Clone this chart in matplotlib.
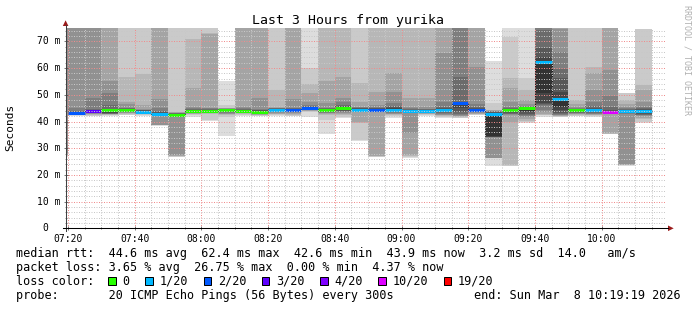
import numpy as np
import matplotlib
matplotlib.use("Agg")
import matplotlib.pyplot as plt
from matplotlib.patches import Polygon, Rectangle
from matplotlib.lines import Line2D
from matplotlib.ticker import MultipleLocator, FuncFormatter
from matplotlib import transforms

# ---------------- data ----------------
col_start = ["07:15", "07:20", "07:25", "07:30", "07:35", "07:40", "07:45", "07:50",
             "07:55", "08:00", "08:05", "08:10", "08:15", "08:20", "08:25", "08:30",
             "08:35", "08:40", "08:45", "08:50", "08:55", "09:00", "09:05", "09:10",
             "09:15", "09:20", "09:25", "09:30", "09:35", "09:40", "09:45", "09:50",
             "09:55", "10:00", "10:05", "10:10"]

# 20 sorted ping RTTs (ms) per 5-minute step; 80 = above the visible range
pings = [
    [26.8, 27.2, 27.6, 27.9, 28.2, 80, 80, 80, 80, 80, 80, 80, 80, 80, 80, 80, 80, 80, 80, 80],
    [42.2, 42.4, 42.5, 42.6, 42.7, 42.8, 42.9, 43.0, 43.05, 43.1, 43.2, 43.5, 43.7, 43.9, 45.2, 80, 80, 80, 80, 80],
    [42.2, 42.2, 42.5, 42.8, 43.0, 43.2, 43.4, 43.6, 43.8, 43.9, 44.0, 44.3, 44.5, 44.7, 48.9, 80, 80, 80, 80, 80],
    [42.0, 42.3, 42.5, 42.7, 42.8, 42.9, 43.0, 43.1, 43.2, 43.4, 44.4, 44.6, 44.8, 46.2, 50.6, 55.0, 80, 80, 80, 80],
    [42.3, 42.6, 42.9, 43.1, 43.3, 43.5, 43.7, 43.9, 44.0, 44.1, 44.3, 44.6, 44.8, 45.0, 45.2, 46.4, 47.4, 56.5, 80, 80],
    [42.2, 42.5, 42.7, 42.9, 43.0, 43.1, 43.2, 43.3, 43.4, 43.5, 43.6, 44.0, 44.2, 44.4, 44.5, 44.7, 46.2, 57.7, 80, 80],
    [38.5, 38.55, 38.6, 38.65, 38.7, 42.6, 42.7, 42.75, 42.8, 42.85, 42.9, 43.3, 43.6, 44.0, 44.9, 48.3, 80, 80, 80, 80],
    [26.6, 26.8, 27.0, 27.2, 27.4, 42.3, 42.35, 42.4, 42.45, 42.5, 42.6, 42.9, 43.0, 43.1, 43.2, 43.3, 43.4, 43.5, 80, 80],
    [41.8, 42.6, 42.8, 43.0, 43.1, 43.2, 43.3, 43.4, 43.5, 43.6, 43.9, 44.2, 44.4, 44.7, 45.0, 45.5, 52.4, 71.0, 80, 80],
    [40.3, 40.5, 43.0, 43.2, 43.4, 43.5, 43.6, 43.7, 43.8, 43.9, 44.1, 44.3, 44.5, 44.7, 44.9, 45.1, 72.9, 73.0, 80, 80],
    [34.7, 41.8, 42.5, 42.8, 43.0, 43.2, 43.4, 43.6, 43.8, 44.0, 44.3, 44.5, 44.6, 44.7, 44.8, 44.9, 45.0, 45.2, 46.2, 55.2],
    [42.2, 42.6, 42.9, 43.1, 43.3, 43.4, 43.5, 43.6, 43.7, 43.75, 43.8, 44.0, 44.3, 44.6, 45.0, 45.3, 80, 80, 80, 80],
    [42.0, 42.2, 42.4, 42.6, 42.7, 42.8, 42.9, 43.0, 43.2, 43.4, 43.7, 44.0, 44.2, 44.4, 44.7, 48.7, 80, 80, 80, 80],
    [42.2, 42.5, 42.8, 43.0, 43.3, 43.5, 43.7, 43.9, 44.0, 44.1, 44.2, 44.6, 44.8, 44.9, 45.0, 45.2, 45.5, 51.8, 80, 80],
    [42.2, 42.2, 42.6, 42.9, 43.2, 43.5, 43.7, 43.9, 44.0, 44.1, 44.4, 44.6, 44.8, 44.9, 45.1, 48.3, 80, 80, 80, 80],
    [41.8, 43.5, 43.8, 44.0, 44.2, 44.4, 44.6, 44.7, 44.8, 44.9, 45.1, 45.3, 45.5, 45.8, 46.2, 47.4, 50.6, 54.2, 60.0, 80],
    [35.5, 40.5, 42.6, 42.9, 43.1, 43.3, 43.5, 43.7, 43.9, 44.1, 44.3, 44.6, 44.8, 45.0, 45.2, 46.8, 55.0, 80, 80, 80],
    [41.2, 41.8, 42.5, 42.9, 43.2, 43.5, 43.8, 44.0, 44.4, 44.8, 45.2, 45.5, 45.8, 46.2, 47.4, 48.9, 56.5, 80, 80, 80],
    [32.8, 33.0, 39.6, 39.9, 43.6, 43.8, 43.9, 44.0, 44.1, 44.2, 44.3, 44.7, 44.9, 45.1, 45.3, 45.5, 47.4, 54.3, 80, 80],
    [26.8, 26.8, 27.0, 27.2, 43.8, 44.0, 44.1, 44.2, 44.3, 44.4, 44.5, 44.7, 44.9, 45.2, 45.5, 46.2, 51.2, 80, 80, 80],
    [41.5, 42.0, 42.5, 42.8, 43.0, 43.2, 43.4, 43.7, 44.0, 44.2, 44.5, 45.0, 45.3, 45.8, 46.8, 51.2, 58.1, 80, 80, 80],
    [26.3, 26.8, 27.2, 27.5, 35.6, 43.2, 43.4, 43.5, 43.6, 43.7, 43.8, 44.2, 44.5, 44.8, 45.0, 45.3, 48.7, 80, 80, 80],
    [42.0, 42.4, 42.8, 43.0, 43.2, 43.3, 43.4, 43.5, 43.6, 43.7, 43.9, 44.2, 44.4, 44.6, 44.8, 45.5, 48.9, 80, 80, 80],
    [41.5, 41.8, 42.1, 42.4, 42.6, 42.9, 43.2, 43.6, 44.0, 44.2, 44.4, 44.8, 45.0, 45.5, 47.4, 65.6, 80, 80, 80, 80],
    [41.2, 41.2, 41.6, 42.0, 42.2, 42.4, 42.8, 43.4, 45.2, 46.2, 46.8, 47.0, 47.4, 56.8, 80, 80, 80, 80, 80, 80],
    [42.4, 42.4, 42.7, 43.0, 43.3, 43.5, 43.7, 43.9, 44.0, 44.2, 44.4, 44.7, 45.0, 45.3, 46.4, 60.6, 80, 80, 80, 80],
    [23.3, 26.3, 26.3, 26.3, 26.3, 34.3, 34.3, 34.3, 34.3, 34.4, 42.9, 43.2, 43.4, 43.6, 43.8, 44.0, 44.2, 44.5, 47.0, 62.5],
    [23.3, 23.5, 23.7, 40.0, 42.5, 42.8, 43.0, 43.3, 43.6, 43.9, 44.2, 44.4, 44.7, 45.0, 45.5, 47.5, 52.7, 56.4, 71.5, 80],
    [39.5, 39.8, 40.2, 40.8, 41.6, 42.2, 42.6, 43.0, 43.4, 44.0, 45.1, 45.3, 45.4, 45.6, 45.9, 46.5, 48.2, 51.9, 56.3, 80],
    [41.8, 42.3, 42.6, 43.0, 43.5, 44.3, 46.3, 46.5, 46.8, 50.6, 62.4, 64.0, 67.5, 74.4, 80, 80, 80, 80, 80, 80],
    [41.6, 41.8, 42.0, 42.2, 42.4, 42.6, 42.8, 43.2, 44.3, 45.5, 48.3, 51.2, 56.4, 59.5, 65.9, 74.5, 80, 80, 80, 80],
    [41.9, 42.2, 42.5, 42.7, 42.9, 43.1, 43.3, 43.5, 43.8, 44.0, 44.3, 44.5, 44.6, 44.8, 45.0, 45.5, 46.5, 48.2, 80, 80],
    [41.8, 42.0, 42.3, 42.5, 42.7, 42.9, 43.1, 43.4, 43.7, 44.0, 44.3, 44.8, 45.2, 46.0, 47.5, 51.8, 58.3, 60.6, 80, 80],
    [35.2, 35.4, 35.5, 35.6, 43.0, 43.2, 43.3, 43.4, 43.5, 43.55, 43.6, 44.0, 44.5, 45.5, 49.6, 59.4, 80, 80, 80, 80],
    [23.5, 23.7, 23.8, 23.9, 24.0, 43.0, 43.2, 43.4, 43.6, 43.7, 43.8, 44.0, 44.3, 44.6, 45.0, 45.5, 46.5, 48.0, 50.5, 50.6],
    [39.6, 40.0, 40.8, 41.5, 42.0, 42.3, 42.6, 42.9, 43.2, 43.6, 43.9, 44.3, 44.6, 45.0, 45.6, 47.4, 51.8, 53.7, 74.6, 74.7],
]

median_ms = [np.nan, 43.2, 44.0, 44.4, 44.3, 43.6, 42.9, 42.6, 43.9, 44.1, 44.3, 43.8,
             43.7, 44.2, 44.4, 45.1, 44.3, 45.2, 44.3, 44.5, 44.5, 43.8, 43.9, 44.4,
             46.8, 44.4, 42.9, 44.2, 45.1, 62.4, 48.3, 44.3, 44.3, 43.6, 43.8, 43.9]

loss_pct = [0, 7.5, 12.5, 0, 0, 3.0, 2.5, 0, 0, 0, 0, 0,
            0, 3.5, 8.0, 6.5, 0, 0, 2.0, 7.0, 3.0, 4.0, 2.5, 3.0,
            6.0, 7.5, 3.5, 0, 0, 2.0, 3.0, 0, 2.5, 26.75, 3.5, 4.37]

pings_per_step = 20
loss_labels = ["0", "1/20", "2/20", "3/20", "4/20", "10/20", "19/20"]
loss_limit = [0, 1, 2, 3, 4, 10, 19]
loss_colors = ["#26ff00", "#00b8ff", "#0059ff", "#5e00ff", "#7e00ff", "#dd00ff", "#ff0000"]

x_start, x_end = "07:19:19", "10:19:19"
title = "Last 3 Hours from yurika"
y_label = "Seconds"
legend_rtt = "median rtt:  44.6 ms avg  62.4 ms max  42.6 ms min  43.9 ms now  3.2 ms sd  14.0   am/s"
legend_loss = "packet loss: 3.65 % avg  26.75 % max  0.00 % min  4.37 % now"
legend_color = "loss color:"
legend_probe = "probe:       20 ICMP Echo Pings (56 Bytes) every 300s"
legend_end = "end: Sun Mar  8 10:19:19 2026"
watermark = "RRDTOOL / TOBI OETIKER"

# ---------------- layout ----------------
W, H, DPI = 697, 310, 100
MONO = "DejaVu Sans Mono"
plt.rcParams["font.family"] = [MONO, "DejaVu Sans"]


def hm(s):
    parts = [int(p) for p in s.split(":")]
    return parts[0] * 60 + parts[1] + (parts[2] / 60.0 if len(parts) > 2 else 0.0)


def fx(px):
    return px / W


def fy(py):
    return 1.0 - py / H


fig = plt.figure(figsize=(W / DPI, H / DPI), dpi=DPI, facecolor="white")
L, R, T, B = 65.6, 666.2, 28.1, 228.3
ax = fig.add_axes([fx(L), fy(B), (R - L) / W, (B - T) / H])
ax.set_xlim(hm(x_start), hm(x_end))
ax.set_ylim(0, 75)
for s in ax.spines.values():
    s.set_visible(False)
ax.set_facecolor("white")

# smoke
starts = np.array([hm(s) for s in col_start])
edges = np.append(starts, starts[-1] + 5)
P = np.asarray(pings, float)
n = P.shape[1]
half = n // 2
for ib in range(half):
    it = n - 1 - ib
    g = int(190 / half * (half - (ib + 1))) + 50
    col = "#{0:02x}{0:02x}{0:02x}".format(g)
    lo = np.append(P[:, ib], P[-1, ib])
    hi = np.append(P[:, it], P[-1, it])
    ax.fill_between(edges, lo, hi, step="post", facecolor=col, edgecolor="none",
                    linewidth=0, zorder=1)

# median
med = np.asarray(median_ms, float)
ax.step(edges, np.append(med, med[-1]), where="post", color="#202020", lw=0.72, zorder=2)
loss_count = np.asarray(loss_pct) / 100.0 * pings_per_step
cls = np.clip(np.searchsorted(loss_limit, loss_count - 1e-9, side="left"), 0, len(loss_limit) - 1)
ax.hlines(med, starts, starts + 5, colors=[loss_colors[k] for k in cls],
          linewidth=2.2, zorder=2.2, capstyle="butt")

# grid
ax.xaxis.set_major_locator(MultipleLocator(20))
ax.xaxis.set_minor_locator(MultipleLocator(5))
ax.yaxis.set_major_locator(MultipleLocator(10))
ax.yaxis.set_minor_locator(MultipleLocator(2))
ax.set_axisbelow(False)
ax.grid(which="minor", color="#c8c8c8", linestyle=(0, (1, 1.5)), linewidth=0.72)
ax.grid(which="major", color="#f08c8c", linestyle=(0, (1, 1.5)), linewidth=0.72)

ax.xaxis.set_major_formatter(FuncFormatter(lambda v, _: "%02d:%02d" % (int(round(v)) // 60, int(round(v)) % 60)))
ax.tick_params(axis="x", which="major", direction="inout", length=2.9, width=0.5,
               color="#404040", pad=2.3, labelsize=7, labelcolor="black")
ax.tick_params(axis="x", which="minor", direction="inout", length=1.5, width=0.5, color="#404040")
ax.tick_params(axis="y", which="major", direction="inout", length=2.9, width=0.5,
               color="#404040", labelleft=False)
ax.tick_params(axis="y", which="minor", direction="inout", length=1.6, width=0.5, color="#606060")

# y tick labels (right aligned, zero padded like rrdtool)
pitch7 = 0.60205 * 7 * DPI / 72.0
ytr = transforms.blended_transform_factory(fig.transFigure, ax.transData)
for v in ax.yaxis.get_majorticklocs():
    if v < 0 or v > 75:
        continue
    lab = ("%d m" % v) if v else "0"
    xr = 60.0 if v else 60.0 - 2 * pitch7
    ax.text(fx(xr), v, lab, transform=ytr, ha="right", va="center", fontsize=7,
            color="black", clip_on=False)

# axes lines and arrows
fig.add_artist(Line2D([fx(L), fx(L)], [fy(B + 3), fy(25)], color="#404040", lw=0.75))
fig.add_artist(Line2D([fx(L - 3), fx(668)], [fy(B), fy(B)], color="black", lw=0.75))
fig.add_artist(Polygon([[fx(L - 2.8), fy(26)], [fx(L + 2.8), fy(26)], [fx(L), fy(20.3)]],
                       closed=True, facecolor="#9b1c1c", edgecolor="none"))
fig.add_artist(Polygon([[fx(668), fy(B - 2.8)], [fx(668), fy(B + 2.8)], [fx(673.7), fy(B)]],
                       closed=True, facecolor="#9b1c1c", edgecolor="none"))

# texts
fig.text(fx(347.5), fy(24), title, ha="center", va="baseline", fontsize=9.5)
fig.text(fx(10.5), fy(127.5), y_label, rotation=90, ha="center", va="center", fontsize=8)
fig.text(fx(686.5), fy(60), watermark, rotation=270, ha="center", va="center",
         fontsize=6, color="#b0b0b0")

LX = 16.0
fs_leg = 8.5
pitch_l = 0.60205 * fs_leg * DPI / 72.0
fig.text(fx(LX), fy(257.5), legend_rtt, ha="left", va="baseline", fontsize=fs_leg)
fig.text(fx(LX), fy(271.2), legend_loss, ha="left", va="baseline", fontsize=fs_leg)
fig.text(fx(LX), fy(285.0), legend_color, ha="left", va="baseline", fontsize=fs_leg)
c = 13.0
for lab, colr in zip(loss_labels, loss_colors):
    bx = LX + c * pitch_l
    fig.add_artist(Rectangle((fx(bx), fy(285.0)), 7.3 / W, 7.6 / H, facecolor=colr,
                             edgecolor="black", linewidth=0.72))
    fig.text(fx(LX + (c + 2.0) * pitch_l), fy(285.0), lab, ha="left", va="baseline",
             fontsize=fs_leg)
    c = c + 2.0 + len(lab) + 2.2
fig.text(fx(LX), fy(298.6), legend_probe, ha="left", va="baseline", fontsize=fs_leg)
fig.text(fx(681.0), fy(298.6), legend_end, ha="right", va="baseline", fontsize=fs_leg)

fig.savefig("out.png", dpi=DPI, facecolor="white")
